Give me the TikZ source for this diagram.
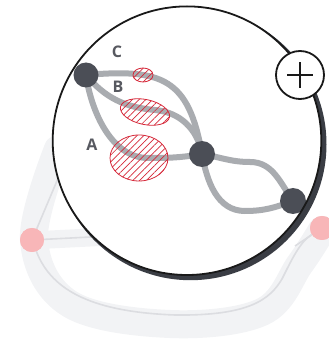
\documentclass[tikz,border=0pt]{standalone}
\usepackage{fontspec}
\setmainfont{Open Sans}
\usetikzlibrary{shapes.geometric,patterns.meta}
\definecolor{dk}{HTML}{4B4E56}
\definecolor{pathgray}{HTML}{A9ACB0}
\definecolor{lblgray}{HTML}{575960}
\definecolor{hred}{HTML}{D62839}
\definecolor{pinkn}{HTML}{F8B6B8}
\definecolor{bandgray}{HTML}{F2F3F5}
\definecolor{thingray}{HTML}{DCDDE1}
\definecolor{shadowc}{HTML}{3A3D44}
\tikzset{
  dnode/.style={circle,fill=dk,inner sep=0pt,minimum size=25pt},
  pnode/.style={circle,fill=pinkn,inner sep=0pt,minimum size=24pt},
  route/.style={draw=pathgray,line width=6pt,line cap=round},
  band/.style={draw=bandgray,line width=28pt,line cap=round,line join=round},
  thin/.style={draw=thingray,line width=1.6pt},
  hell/.style={ellipse,draw=hred,line width=0.8pt,inner sep=0pt,
    pattern={Lines[angle=45,distance=4.8pt,line width=0.7pt]},pattern color=hred},
  lbl/.style={text=lblgray,font=\bfseries\fontsize{16}{16}\selectfont,inner sep=0pt}
}
\begin{document}
\begin{tikzpicture}[x=1pt,y=1pt]
\useasboundingbox (0,0) rectangle (329,354);
% faint background
\draw[band] plot[smooth,tension=0.6] coordinates {(58,205) (34,114) (70,50) (170,30) (262,42) (300,90) (322,124)};
\draw[band,line width=18pt] (40,114) -- (120,118);
\node[pnode] (pl) at (32,114) {};
\node[pnode] (pr) at (322,126) {};
\coordinate (ul) at (62,185);
\coordinate (ml) at (110,118);
\coordinate (mr) at (295,108);
\draw[thin] (pl) -- (ul);
\draw[thin] (pl) -- (ml);
\draw[thin] (pr) -- (mr);
\draw[thin] (pl) .. controls (52,62) and (95,42) .. (175,39) .. controls (250,38) and (270,55) .. (282,75) .. controls (292,95) and (300,112) .. (pr);
\node[pnode] at (pl) {};
\node[pnode] at (pr) {};
% magnifier
\fill[shadowc] (190.5,209.8) circle (136);
\node[circle,fill=white,minimum size=268.6pt,inner sep=0pt] (mag) at (187,213.3) {};
% routes
\coordinate (n1c) at (86,279);
\coordinate (n2c) at (202,200);
\coordinate (n3c) at (293,153);
\coordinate (bm) at (155,244);
\coordinate (am) at (148,196);
\coordinate (um) at (250,192);
\coordinate (lm) at (245,143);
\draw[route] (n1c) to[out=5,in=100,looseness=1.4] (n2c);
\draw[route] (n1c) to[out=-50,in=175] (bm) to[out=-5,in=100] (n2c);
\draw[route] (n1c) to[out=-82,in=180,looseness=0.9] (am) to[out=0,in=190] (n2c);
\draw[route] (n2c) to[out=-10,in=180] (um) to[out=0,in=125] (n3c);
\draw[route] (n2c) to[out=-80,in=180] (lm) to[out=0,in=200] (n3c);
% hatched areas
\node[hell,minimum width=20pt,minimum height=14pt] (ec) at (143,279) {};
\node[hell,minimum width=50pt,minimum height=25pt,rotate=-12] (eb) at (145,242) {};
\node[hell,minimum width=58pt,minimum height=46pt] (ea) at (139,196) {};
% nodes
\node[dnode] (n1) at (n1c) {};
\node[dnode,minimum size=26pt] (n2) at (n2c) {};
\node[dnode,minimum size=26pt] (n3) at (n3c) {};
% magnifier rim on top
\draw[black!90,line width=1.8pt] (mag.center) circle (134.3);
\node[circle,draw=black!90,line width=1.8pt,fill=white,minimum size=48pt,inner sep=0pt] (plus) at (300,279) {};
\draw[line width=2.2pt,black!90] (plus.center) +(-13,0) -- +(13,0) (plus.center) +(0,-13) -- +(0,13);
% labels
\node[lbl] (lc) at (117,302) {C};
\node[lbl] (lb) at (118,267) {B};
\node[lbl] (la) at (92,209) {A};
\end{tikzpicture}
\end{document}
